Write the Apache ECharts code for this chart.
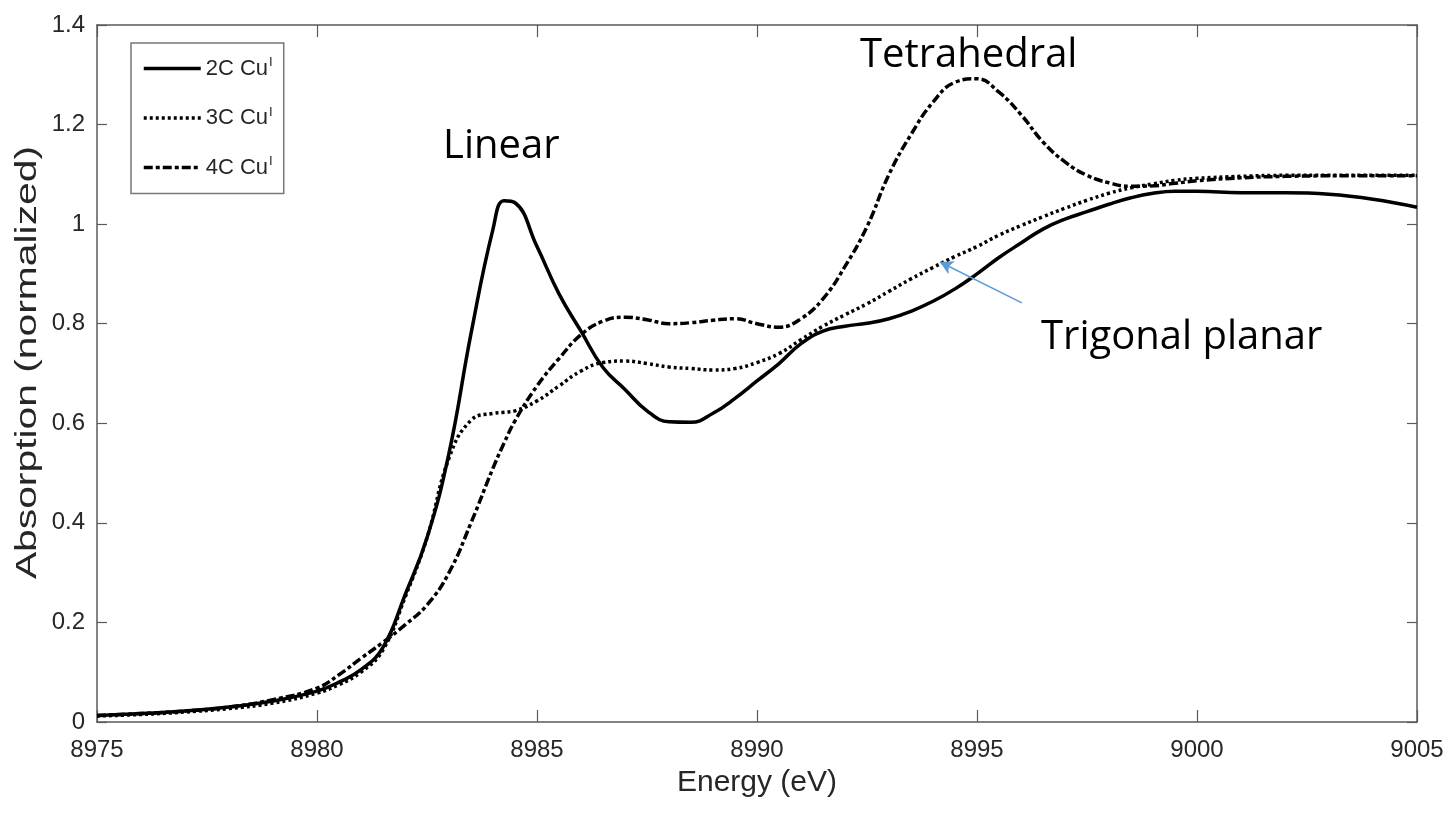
<!DOCTYPE html>
<html>
<head>
<meta charset="utf-8">
<script src="https://cdn.jsdelivr.net/npm/echarts@6/dist/echarts.min.js"></script>
<style>
html,body{margin:0;padding:0;background:#fff;}
#chart{width:1448px;height:828px;}
</style>
</head>
<body>
<div id="chart"></div>
<script>
// ---- data ----
const energy = [8975, 8976, 8977, 8978, 8979, 8980, 8980.5, 8981, 8981.5, 8982, 8982.5, 8983, 8983.5, 8984, 8984.25, 8984.5, 8985, 8985.5, 8986, 8986.5, 8987, 8987.5, 8988, 8988.5, 8989, 8989.5, 8990, 8990.5, 8991, 8991.5, 8992, 8992.5, 8993, 8993.5, 8994, 8994.5, 8995, 8995.5, 8996, 8996.5, 8997, 8997.5, 8998, 8998.5, 8999, 8999.5, 9000, 9001, 9002, 9003, 9004, 9005];

const cu2C = [0.013, 0.017, 0.022, 0.030, 0.042, 0.062, 0.080, 0.105, 0.150, 0.255, 0.370, 0.540, 0.780, 0.990, 1.047, 1.043, 0.955, 0.860, 0.785, 0.712, 0.668, 0.625, 0.603, 0.602, 0.620, 0.650, 0.685, 0.720, 0.760, 0.785, 0.795, 0.801, 0.810, 0.825, 0.845, 0.870, 0.900, 0.933, 0.962, 0.990, 1.010, 1.025, 1.040, 1.053, 1.062, 1.066, 1.066, 1.063, 1.063, 1.060, 1.050, 1.034];

const cu3C = [0.012, 0.015, 0.020, 0.027, 0.038, 0.058, 0.075, 0.100, 0.145, 0.250, 0.370, 0.530, 0.606, 0.620, 0.622, 0.625, 0.645, 0.675, 0.705, 0.722, 0.725, 0.720, 0.713, 0.710, 0.707, 0.710, 0.722, 0.740, 0.768, 0.795, 0.818, 0.840, 0.865, 0.890, 0.913, 0.935, 0.955, 0.978, 0.997, 1.015, 1.032, 1.048, 1.062, 1.073, 1.081, 1.088, 1.092, 1.096, 1.098, 1.098, 1.098, 1.098];

const cu4C = [0.013, 0.017, 0.022, 0.030, 0.045, 0.068, 0.095, 0.128, 0.160, 0.195, 0.235, 0.300, 0.400, 0.510, 0.560, 0.605, 0.675, 0.730, 0.778, 0.805, 0.813, 0.808, 0.800, 0.802, 0.807, 0.810, 0.800, 0.793, 0.810, 0.850, 0.915, 0.995, 1.100, 1.180, 1.245, 1.285, 1.292, 1.265, 1.220, 1.165, 1.125, 1.098, 1.083, 1.076, 1.077, 1.082, 1.087, 1.093, 1.096, 1.097, 1.097, 1.097];

const seriesNames = ['2C Cu', '3C Cu', '4C Cu'];
const xTicks = {min: 8975, max: 9005, step: 5};
const yTicks = {min: 0, max: 1.4, step: 0.2};
const axisTitles = {x: 'Energy (eV)', y: 'Absorption (normalized)'};
const annotations = ['Linear', 'Tetrahedral', 'Trigonal planar'];
const arrowFrom = [8996.02, 0.842];
const arrowTo = [8994.16, 0.924];

// ---- chart ----
function pairs(xs, ys) { return xs.map((x, i) => [x, ys[i]]); }

const chart = echarts.init(document.getElementById('chart'), null, {renderer: 'canvas'});
const axisColor = '#5a5a5a';
const labelColor = '#262626';
const font = "'Liberation Sans', Arial, Helvetica, sans-serif";

const baseX = {
  type: 'value', min: xTicks.min, max: xTicks.max, interval: xTicks.step,
  splitLine: {show: false},
  axisLine: {show: true, onZero: false, lineStyle: {color: axisColor, width: 1.5}},
  axisTick: {show: true, inside: true, length: 12, lineStyle: {color: axisColor, width: 1.2}}
};
const baseY = {
  type: 'value', min: yTicks.min, max: yTicks.max, interval: yTicks.step,
  splitLine: {show: false},
  axisLine: {show: true, onZero: false, lineStyle: {color: axisColor, width: 1.5}},
  axisTick: {show: true, inside: true, length: 10, lineStyle: {color: axisColor, width: 1.2}}
};

const lineTypes = ['solid', [3, 3], [9, 3, 4, 3]];
const dataSets = [cu2C, cu3C, cu4C];

const series = dataSets.map((d, i) => ({
  name: seriesNames[i],
  type: 'line',
  data: pairs(energy, d),
  smooth: 0.45,
  symbol: 'none',
  lineStyle: {color: '#000', width: 3.5, type: lineTypes[i], cap: 'butt'},
  itemStyle: {color: '#000'},
  z: 3 - i
}));

series[1].markLine = {
  silent: true,
  animation: false,
  symbol: ['none', 'arrow'],
  symbolSize: [11, 13],
  label: {show: false},
  lineStyle: {color: '#5b9bd5', width: 1.5, type: 'solid'},
  data: [[{coord: arrowFrom}, {coord: arrowTo}]]
};

chart.setOption({
  animation: false,
  backgroundColor: '#fff',
  grid: {left: 97, right: 31, top: 25, bottom: 106, containLabel: false},
  legend: {
    orient: 'vertical',
    left: 131, top: 43,
    padding: [13, 11, 15, 11],
    itemGap: 26,
    itemWidth: 57,
    itemHeight: 20,
    borderColor: '#777',
    borderWidth: 1.5,
    backgroundColor: '#fff',
    data: seriesNames,
    itemStyle: {color: 'transparent', borderWidth: 0, opacity: 0},
    lineStyle: {width: 3.5},
    formatter: n => n + '{sup|I}',
    textStyle: {
      fontFamily: font, fontSize: 22, color: labelColor,
      rich: {sup: {fontFamily: font, fontSize: 13, color: labelColor, verticalAlign: 'top', padding: [0, 0, 12, 1]}}
    }
  },
  xAxis: [
    Object.assign({}, baseX, {
      position: 'bottom',
      name: axisTitles.x, nameLocation: 'middle', nameGap: 46,
      nameTextStyle: {fontFamily: font, fontSize: 30, color: labelColor},
      axisLabel: {fontFamily: font, fontSize: 24, color: labelColor, margin: 16, formatter: v => String(v)}
    }),
    Object.assign({}, baseX, {position: 'top', axisLabel: {show: false}})
  ],
  yAxis: [
    Object.assign({}, baseY, {
      position: 'left',
      axisLabel: {fontFamily: font, fontSize: 24, color: labelColor, margin: 12}
    }),
    Object.assign({}, baseY, {position: 'right', axisLabel: {show: false}})
  ],
  series: series,
  graphic: [
    {type: 'text', left: 13, top: 146, rotation: Math.PI / 2, scaleX: 1.36,
     style: {text: axisTitles.y, font: "30px 'Liberation Sans', Arial, sans-serif", fill: labelColor}},
    {type: 'text', left: 443, top: 127, style: {text: annotations[0], font: "40px 'Open Sans', sans-serif", fill: '#000'}},
    {type: 'text', left: 860, top: 36, style: {text: annotations[1], font: "40px 'Open Sans', sans-serif", fill: '#000'}},
    {type: 'text', left: 1041, top: 318, style: {text: annotations[2], font: "40px 'Open Sans', sans-serif", fill: '#000'}}
  ]
});
</script>
</body>
</html>
